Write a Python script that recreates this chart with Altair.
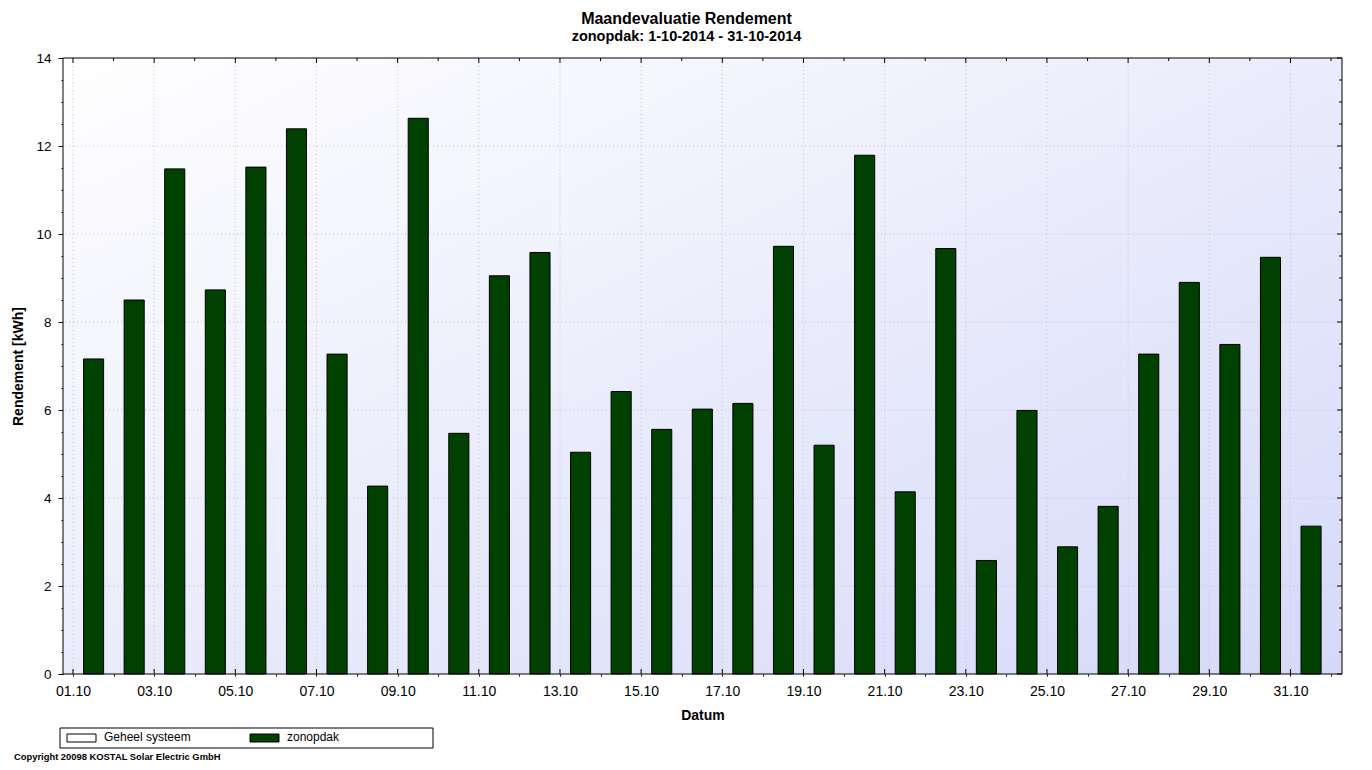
import altair as alt
import pandas as pd

# ---------------- data ----------------
days = list(range(1, 32))
values = [7.16, 8.50, 11.48, 8.73, 11.52, 12.39, 7.27, 4.27, 12.63, 5.47,
          9.05, 9.58, 5.04, 6.42, 5.56, 6.02, 6.15, 9.72, 5.20, 11.79,
          4.14, 9.67, 2.58, 5.99, 2.89, 3.81, 7.27, 8.90, 7.49, 9.47, 3.36]
month = "10"
series_names = ["Geheel systeem", "zonopdak"]
series_colors = ["#ffffff", "#004000"]
title_text = "Maandevaluatie Rendement"
subtitle_text = "zonopdak: 1-10-2014 - 31-10-2014"
x_title = "Datum"
y_title = "Rendement [kWh]"
copyright_text = "Copyright 20098 KOSTAL  Solar Electric GmbH"

x_ticks = list(range(1, 33))            # day boundaries 01.10 ... 01.11
y_ticks = [i / 2 for i in range(0, 29)]  # 0 ... 14 step 0.5
y_grid = [2, 4, 6, 8, 10, 12]

df = pd.DataFrame({"day": days, "value": values})
xt = pd.DataFrame({"t": x_ticks})
yt = pd.DataFrame({"v": y_ticks})
yg = pd.DataFrame({"v": y_grid})
one = alt.Data(values=[{}])

W, H = 1279, 616
FONT = "Liberation Sans"
GRID = "#c4c6d0"

x_scale = alt.Scale(domain=[0.754, 32.27], nice=False, zero=False)
y_scale = alt.Scale(domain=[0, 14], nice=False)

x_axis = alt.Axis(
    values=x_ticks,
    labelExpr=f"datum.value % 2 === 1 ? ((datum.value < 10 ? '0' : '') + datum.value + '.{month}') : ''",
    labelOverlap=False, labelFlush=False,
    grid=False, domain=False,
    tickColor="black", tickSize=2,
    labelFont=FONT, labelFontSize=14, labelColor="black", labelPadding=8,
    title=x_title, titleFont=FONT, titleFontSize=14, titleFontWeight="bold",
    titleColor="black", titleX=W / 2, titleY=41, titleBaseline="middle",
)
y_axis = alt.Axis(
    values=y_ticks,
    labelExpr="datum.value % 2 === 0 ? format(datum.value, 'd') : ''",
    labelOverlap=False, labelFlush=False,
    grid=False, domain=False,
    tickColor="black",
    tickSize={"condition": {"test": "datum.value % 2 === 0", "value": 5}, "value": 2},
    labelFont=FONT, labelFontSize=13.5, labelColor="black", labelPadding=7,
    title=y_title, titleFont=FONT, titleFontSize=14, titleFontWeight="bold",
    titleColor="black", titleX=-45, titleY=H / 2, titleBaseline="middle",
)

gradient = alt.LinearGradient(
    gradient="linear",
    stops=[alt.GradientStop(color="#ffffff", offset=0),
           alt.GradientStop(color="#d5d9f8", offset=1)],
    x1=0, y1=0, x2=1, y2=1,
)


def xenc(field):
    return alt.X(f"{field}:Q", scale=x_scale, axis=x_axis)


def yenc(field):
    return alt.Y(f"{field}:Q", scale=y_scale, axis=y_axis)


background = alt.Chart(one).mark_rect(fill=gradient).encode(
    x=alt.value(0), x2=alt.value(W), y=alt.value(0), y2=alt.value(H)
)

grid_v = alt.Chart(xt).transform_filter("datum.t % 2 === 1").mark_rule(
    color=GRID, strokeDash=[1, 3], strokeWidth=1
).encode(x=xenc("t"))

grid_h = alt.Chart(yg).mark_rule(
    color=GRID, strokeDash=[1, 3], strokeWidth=1
).encode(y=yenc("v"))

bars = alt.Chart(df).transform_calculate(
    x0="datum.day + 0.26", x1="datum.day + 0.755"
).mark_bar(color=series_colors[1], stroke="black", strokeWidth=1).encode(
    x=xenc("x0"),
    x2="x1:Q",
    y=yenc("value"),
    y2=alt.datum(0),
    tooltip=[alt.Tooltip("day:Q", title="Dag"), alt.Tooltip("value:Q", title="kWh")],
)

top_major = alt.Chart(xt).transform_filter("datum.t % 2 === 1").mark_rule(color="black").encode(
    x=xenc("t"), y=alt.value(0), y2=alt.value(5))
top_minor = alt.Chart(xt).transform_filter("datum.t % 2 === 0").mark_rule(color="black").encode(
    x=xenc("t"), y=alt.value(0), y2=alt.value(3))
bottom_major = alt.Chart(xt).transform_filter("datum.t % 2 === 1").mark_rule(color="black").encode(
    x=xenc("t"), y=alt.value(H), y2=alt.value(H - 5))
right_major = alt.Chart(yt).transform_filter("datum.v % 2 === 0").mark_rule(color="black").encode(
    y=yenc("v"), x=alt.value(W), x2=alt.value(W - 5))
right_minor = alt.Chart(yt).transform_filter("datum.v % 2 !== 0").mark_rule(color="black").encode(
    y=yenc("v"), x=alt.value(W), x2=alt.value(W - 3))

frame = alt.Chart(one).mark_rect(filled=False, color="black", strokeWidth=1).encode(
    x=alt.value(0), x2=alt.value(W), y=alt.value(0), y2=alt.value(H))

title = alt.Chart(one).mark_text(
    text=title_text, font=FONT, fontSize=16, fontWeight="bold", color="black",
    align="center", baseline="alphabetic"
).encode(x=alt.value(623.5), y=alt.value(-33.7))
subtitle = alt.Chart(one).mark_text(
    text=subtitle_text, font=FONT, fontSize=14.5, fontWeight="bold", color="black",
    align="center", baseline="alphabetic"
).encode(x=alt.value(623.5), y=alt.value(-17.3))

legend_box = alt.Chart(one).mark_rect(filled=False, color="black", strokeWidth=1).encode(
    x=alt.value(-3), x2=alt.value(370), y=alt.value(670), y2=alt.value(690))
sw1 = alt.Chart(one).mark_rect(fill=series_colors[0], stroke="black", strokeWidth=1).encode(
    x=alt.value(4), x2=alt.value(33), y=alt.value(676), y2=alt.value(684))
sw2 = alt.Chart(one).mark_rect(fill=series_colors[1], stroke="black", strokeWidth=1).encode(
    x=alt.value(187), x2=alt.value(216), y=alt.value(676), y2=alt.value(684))
lt1 = alt.Chart(one).mark_text(
    text=series_names[0], font=FONT, fontSize=12, color="black", align="left", baseline="middle"
).encode(x=alt.value(41), y=alt.value(679))
lt2 = alt.Chart(one).mark_text(
    text=series_names[1], font=FONT, fontSize=12, color="black", align="left", baseline="middle"
).encode(x=alt.value(224), y=alt.value(679))
copyright = alt.Chart(one).mark_text(
    text=copyright_text, font=FONT, fontSize=9.4, fontWeight="bold", color="black",
    align="left", baseline="alphabetic"
).encode(x=alt.value(-49), y=alt.value(701.5))

chart = alt.layer(
    background, grid_v, grid_h, bars,
    top_major, top_minor, bottom_major, right_major, right_minor, frame,
    title, subtitle, legend_box, sw1, sw2, lt1, lt2, copyright,
).properties(
    width=W, height=H,
    autosize=alt.AutoSizeParams(type="none"),
    padding={"left": 55, "top": 50, "right": 2, "bottom": 88},
    background="white",
).configure_view(strokeWidth=0)

chart.save("out.html", embed_options={"renderer": "svg", "actions": False})
